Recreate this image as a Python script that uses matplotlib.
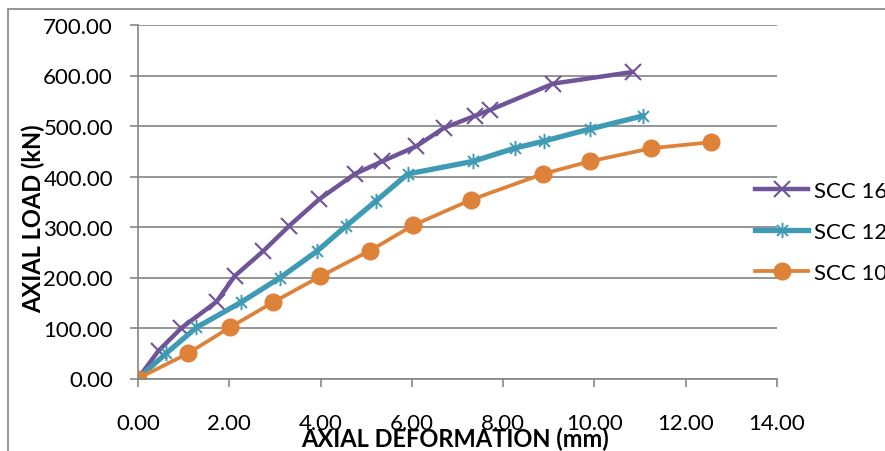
import matplotlib
matplotlib.use('Agg')
import matplotlib.pyplot as plt
from matplotlib.path import Path
from matplotlib.patches import Rectangle

plt.rcParams['font.family'] = ['Lato', 'DejaVu Sans']

# Axial deformation (mm) vs axial load (kN)
scc16_x = [0, 0.45, 0.95, 1.72, 2.12, 2.74, 3.31, 3.97, 4.75, 5.35, 6.1, 6.7, 7.38, 7.72, 9.1, 10.84]
scc16_y = [0, 55, 100, 152, 203, 252, 302, 355, 405, 430, 460, 496, 520, 532, 584, 607]

scc12_x = [0, 0.62, 1.28, 2.26, 3.12, 3.92, 4.56, 5.22, 5.91, 7.34, 8.25, 8.89, 9.9, 11.06]
scc12_y = [0, 50, 101, 151, 200, 252, 302, 352, 405, 430, 456, 470, 494, 520]

scc10_x = [0, 1.10, 2.01, 2.96, 3.99, 5.08, 6.02, 7.30, 8.87, 9.9, 11.25, 12.56]
scc10_y = [0, 50, 101, 151, 202, 253, 303, 354, 405, 430, 456, 468]

x_ticks = [0, 2, 4, 6, 8, 10, 12, 14]
y_ticks = [0, 100, 200, 300, 400, 500, 600, 700]

# Excel style star marker: X with a vertical bar
star = Path([(-1, -1), (1, 1), (-1, 1), (1, -1), (0, -1.4), (0, 1.4)],
            [Path.MOVETO, Path.LINETO, Path.MOVETO, Path.LINETO, Path.MOVETO, Path.LINETO])

fig = plt.figure(figsize=(8.85, 4.52), dpi=100)
ax = fig.add_axes([138 / 885, 1 - 379.5 / 452, (777 - 138) / 885, (379.5 - 26) / 452])

ax.plot(scc16_x, scc16_y, color='#6F5597', lw=3.2, marker='x', ms=12, mew=1.5,
        solid_joinstyle='round', label='SCC 16')
ax.plot(scc12_x, scc12_y, color='#3E9BB3', lw=3.8, marker=star, ms=11, mew=1.4,
        solid_joinstyle='round', label='SCC 12')
ax.plot(scc10_x, scc10_y, color='#DE8139', lw=2.7, marker='o', ms=12,
        solid_joinstyle='round', label='SCC 10')

ax.set_xlim(0, 14)
ax.set_ylim(0, 700)
ax.set_xticks(x_ticks)
ax.set_yticks(y_ticks)
ax.set_xticklabels([f'{v:.2f}' for v in x_ticks])
ax.set_yticklabels([f'{v:.2f}' for v in y_ticks])
ax.tick_params(direction='out', length=6, width=1.2, color='#868686', labelsize=16, pad=12)
ax.tick_params(axis='x', pad=19)

ax.grid(axis='y', color='#8c8c8c', lw=1.3)
ax.set_axisbelow(True)
for s in ['top', 'right']:
    ax.spines[s].set_visible(False)
for s in ['left', 'bottom']:
    ax.spines[s].set_color('#868686')
    ax.spines[s].set_linewidth(1.2)

fig.text(455 / 885, 1 - 439 / 452, 'AXIAL DEFORMATION (mm)', fontsize=17, fontweight='bold',
         ha='center', va='center')
fig.text(33 / 885, 1 - 219 / 452, 'AXIAL LOAD (kN)', fontsize=17, fontweight='bold',
         rotation=90, ha='center', va='center')

ax.legend(loc='center left', bbox_to_anchor=(755 / 885, 1 - 233 / 452),
          bbox_transform=fig.transFigure, frameon=False, fontsize=16,
          handlelength=2.4, handletextpad=0.25, labelspacing=0.95, borderpad=0, borderaxespad=0)

# outer chart border
fig.add_artist(Rectangle((8 / 885, -0.2), 1.2, 1.2 - 10 / 452, transform=fig.transFigure,
                         fill=False, ec='#8c8c8c', lw=1.3))

fig.savefig('out.png', dpi=100)
